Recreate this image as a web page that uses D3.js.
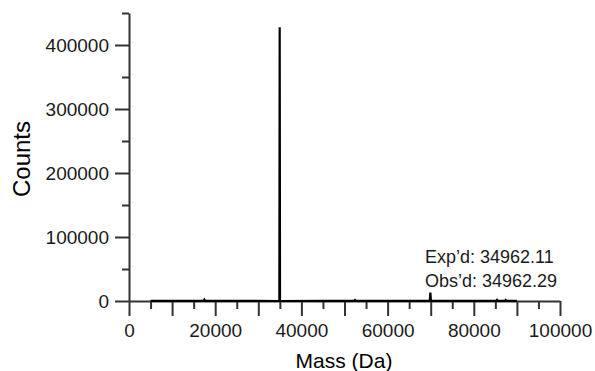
<!DOCTYPE html>
<html>
<head>
<meta charset="utf-8">
<script src="https://cdn.jsdelivr.net/npm/d3@7"></script>
<style>
  html, body { margin: 0; padding: 0; background: #fff; }
  svg { display: block; font-family: "Liberation Sans", Arial, sans-serif; }
</style>
</head>
<body>
<svg id="chart" width="595" height="371"></svg>
<script>
// Deconvoluted mass spectrum (mass in Da, intensity in counts)
const masses = [5000, 12000, 17300, 17480, 17650, 25000, 34880, 34962, 35040, 45000,
                52250, 52440, 52620, 62000, 69800, 69924, 70050, 78000,
                85200, 85400, 85600, 87250, 87405, 87560, 90000];
const counts = [300, 300, 300, 2200, 300, 300, 0, 427600, 0, 300,
                300, 1600, 300, 300, 300, 13200, 300, 300,
                300, 1800, 300, 300, 1500, 300, 300];

const xTicksMajor = [0, 10000, 20000, 30000, 40000, 50000, 60000, 70000, 80000, 90000, 100000];
const xTicksMinor = [5000, 15000, 25000, 35000, 45000, 55000, 65000, 75000, 85000, 95000];
const xTickLabels = [0, 20000, 40000, 60000, 80000, 100000];
const yTicksMajor = [0, 100000, 200000, 300000, 400000];
const yTicksMinor = [50000, 150000, 250000, 350000, 450000];

const annotation = ["Exp\u2019d: 34962.11", "Obs\u2019d: 34962.29"];
const xTitle = "Mass (Da)";
const yTitle = "Counts";

const svg = d3.select("#chart");
const x = d3.scaleLinear().domain([0, 100000]).range([129, 560]);
const y = d3.scaleLinear().domain([0, 450000]).range([301, 13]);

const axisColor = "#333";
const labelSize = 19;

function styleAxis(g) {
  g.selectAll("path.domain").attr("stroke", axisColor).attr("stroke-width", 2);
  g.selectAll(".tick line").attr("stroke", axisColor).attr("stroke-width", 2);
  g.selectAll(".tick text").attr("fill", "#1a1a1a")
    .style("font-size", labelSize + "px")
    .style("font-family", "'Liberation Sans', Arial, sans-serif");
}

// Minor ticks first, major axes drawn on top
svg.append("g").attr("transform", `translate(0,${y(0)})`)
  .call(d3.axisBottom(x).tickValues(xTicksMinor).tickSize(8).tickFormat(""))
  .call(g => g.select(".domain").remove())
  .call(styleAxis);
svg.append("g").attr("transform", `translate(${x(0)},0)`)
  .call(d3.axisLeft(y).tickValues(yTicksMinor).tickSize(7).tickFormat(""))
  .call(g => g.select(".domain").remove())
  .call(styleAxis);

svg.append("g").attr("transform", `translate(0,${y(0)})`)
  .call(d3.axisBottom(x).tickValues(xTicksMajor).tickSize(15).tickSizeOuter(0).tickPadding(8)
    .tickFormat(d => xTickLabels.includes(d) ? String(d) : ""))
  .call(styleAxis);
svg.append("g").attr("transform", `translate(${x(0)},0)`)
  .call(d3.axisLeft(y).tickValues(yTicksMajor).tickSize(14).tickSizeOuter(0).tickPadding(6)
    .tickFormat(d => String(d)))
  .call(styleAxis);

// Spectrum trace
const line = d3.line().x((d, i) => x(masses[i])).y((d, i) => y(counts[i]));
svg.append("path")
  .datum(masses)
  .attr("d", line)
  .attr("fill", "none")
  .attr("stroke", "#000")
  .attr("stroke-width", 2.2)
  .attr("stroke-linejoin", "miter");

// Axis titles
svg.append("text")
  .attr("x", 344).attr("y", 368)
  .attr("text-anchor", "middle")
  .style("font-size", "21px")
  .attr("fill", "#000")
  .text(xTitle);
svg.append("text")
  .attr("transform", "translate(30,159) rotate(-90)")
  .attr("text-anchor", "middle")
  .style("font-size", "24px")
  .attr("fill", "#000")
  .text(yTitle);

// Mass annotation
svg.selectAll("text.note").data(annotation).enter().append("text")
  .attr("class", "note")
  .attr("x", 425)
  .attr("y", (d, i) => 263 + i * 24)
  .style("font-size", "18px")
  .attr("fill", "#1a1a1a")
  .text(d => d);
</script>
</body>
</html>
